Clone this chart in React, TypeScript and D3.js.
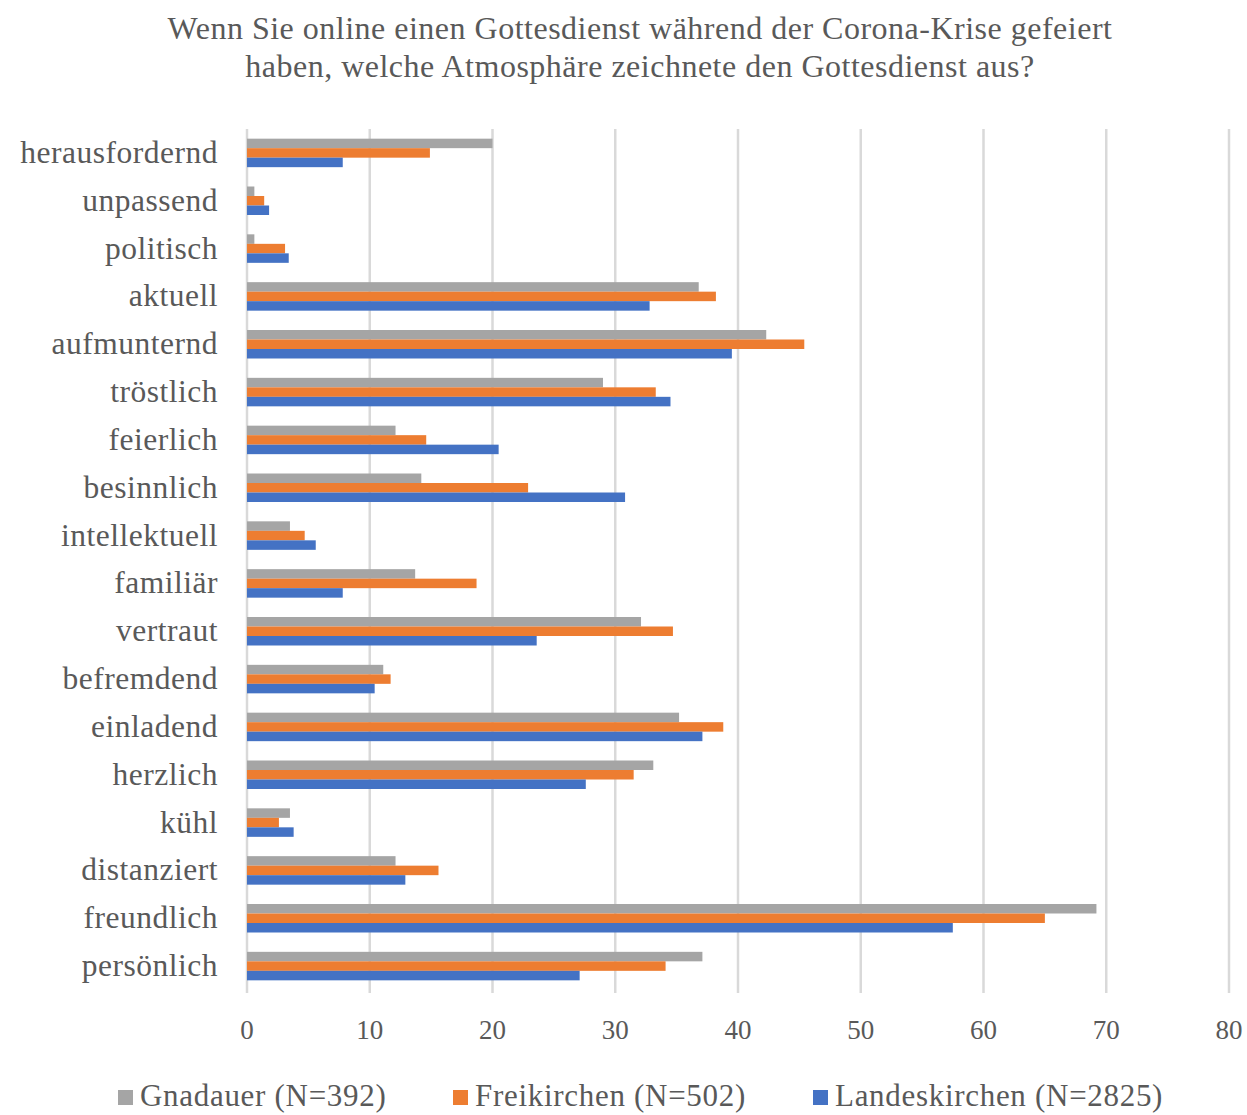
import React from "react";
import * as d3 from "d3";

const categories = [
  "herausfordernd", "unpassend", "politisch", "aktuell", "aufmunternd", "tröstlich",
  "feierlich", "besinnlich", "intellektuell", "familiär", "vertraut", "befremdend",
  "einladend", "herzlich", "kühl", "distanziert", "freundlich", "persönlich",
];
const gnadauer = [20, 0.6, 0.6, 36.8, 42.3, 29.0, 12.1, 14.2, 3.5, 13.7, 32.1, 11.1, 35.2, 33.1, 3.5, 12.1, 69.2, 37.1];
const freikirchen = [14.9, 1.4, 3.1, 38.2, 45.4, 33.3, 14.6, 22.9, 4.7, 18.7, 34.7, 11.7, 38.8, 31.5, 2.6, 15.6, 65.0, 34.1];
const landeskirchen = [7.8, 1.8, 3.4, 32.8, 39.5, 34.5, 20.5, 30.8, 5.6, 7.8, 23.6, 10.4, 37.1, 27.6, 3.8, 12.9, 57.5, 27.1];
const seriesNames = ["Gnadauer (N=392)", "Freikirchen (N=502)", "Landeskirchen (N=2825)"];
const seriesColors = ["#A5A5A5", "#ED7D31", "#4472C4"];
const xTicks = [0, 10, 20, 30, 40, 50, 60, 70, 80];
const titleLines = [
  "Wenn Sie online einen Gottesdienst während der Corona-Krise gefeiert",
  "haben, welche Atmosphäre zeichnete den Gottesdienst aus?",
];

export default function App() {
  const W = 1247, H = 1115;
  const left = 247, right = 1229, top = 129, bottom = 990;
  const x = d3.scaleLinear().domain([0, 80]).range([left, right]);
  const y = d3.scaleBand<string>().domain(categories).range([top, bottom]).paddingInner(0).paddingOuter(0);
  const series = [gnadauer, freikirchen, landeskirchen];
  const groupH = 28.5;
  const inner = d3.scaleBand<number>().domain([0, 1, 2]).range([0, groupH]);
  const font = "'Liberation Serif', 'Times New Roman', serif";
  const textColor = "#595959";
  const legendX = [118, 453, 813];

  return (
    <svg width={W} height={H} style={{ position: "absolute", left: 0, top: 0, background: "#fff" }}>
      <rect x={0} y={0} width={W} height={H} fill="#fff" />
      {titleLines.map((t, i) => (
        <text key={i} x={640} y={39 + i * 38} textAnchor="middle" fontFamily={font} fontSize={32} letterSpacing={0.5} fill={textColor}>
          {t}
        </text>
      ))}
      {xTicks.map((t) => (
        <line key={t} x1={x(t)} x2={x(t)} y1={top} y2={bottom + 3} stroke="#D9D9D9" strokeWidth={2.5} />
      ))}
      {categories.map((c, ci) => {
        const cy = (y(c) as number) + y.bandwidth() / 2;
        return (
          <g key={c}>
            {series.map((s, si) => (
              <rect
                key={si}
                x={x(0)}
                y={cy - groupH / 2 + (inner(si) as number)}
                width={x(s[ci]) - x(0)}
                height={inner.bandwidth()}
                fill={seriesColors[si]}
              />
            ))}
            <text x={218} y={cy + 10} textAnchor="end" fontFamily={font} fontSize={31.5} letterSpacing={0.5} fill={textColor}>
              {c}
            </text>
          </g>
        );
      })}
      {xTicks.map((t) => (
        <text key={"l" + t} x={x(t)} y={1039} textAnchor="middle" fontFamily={font} fontSize={27} fill={textColor}>
          {t}
        </text>
      ))}
      {seriesNames.map((n, i) => (
        <g key={n}>
          <rect x={legendX[i]} y={1090} width={15} height={15} fill={seriesColors[i]} />
          <text x={legendX[i] + 22} y={1106} fontFamily={font} fontSize={31} letterSpacing={0.7} fill={textColor}>
            {n}
          </text>
        </g>
      ))}
    </svg>
  );
}
